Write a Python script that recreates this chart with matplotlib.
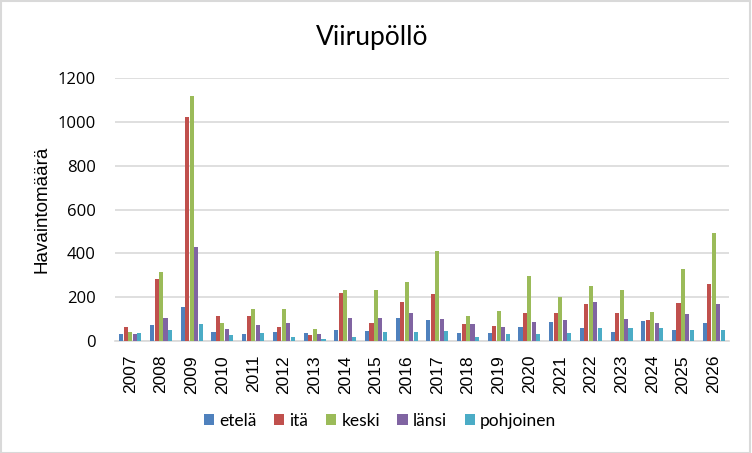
import matplotlib
matplotlib.use('Agg')
from matplotlib import pyplot as plt
from matplotlib.patches import Rectangle
import numpy as np

years = ['2007', '2008', '2009', '2010', '2011', '2012', '2013', '2014', '2015', '2016',
         '2017', '2018', '2019', '2020', '2021', '2022', '2023', '2024', '2025', '2026']
etela = [30, 72, 153, 43, 30, 43, 38, 52, 47, 107, 95, 38, 38, 66, 86, 61, 43, 90, 52, 84]
ita = [66, 283, 1020, 113, 112, 66, 28, 217, 81, 176, 214, 76, 70, 127, 130, 167, 130, 95, 173, 260]
keski = [43, 313, 1116, 80, 148, 148, 57, 231, 231, 268, 411, 112, 139, 297, 199, 251, 231, 131, 329, 494]
lansi = [30, 104, 431, 54, 72, 81, 34, 107, 107, 130, 99, 76, 66, 86, 95, 176, 99, 84, 122, 168]
pohjoinen = [38, 49, 76, 26, 35, 20, 11, 20, 43, 43, 47, 20, 30, 30, 35, 61, 61, 61, 52, 52]

series = [('etelä', etela, '#4F81BD'),
          ('itä', ita, '#C0504D'),
          ('keski', keski, '#9BBB59'),
          ('länsi', lansi, '#8064A2'),
          ('pohjoinen', pohjoinen, '#4BACC6')]

fig = plt.figure(figsize=(7.52, 4.53), dpi=100)
ax = fig.add_axes([115/752, 1-341/453, 614/752, 263/453])

x = np.arange(len(years))
w = 0.145
for i, (name, vals, col) in enumerate(series):
    ax.bar(x + (i - 2) * w, vals, width=w * 0.92, color=col, label=name, zorder=3)

ax.set_xlim(-0.5, len(years) - 0.5)
ax.set_ylim(0, 1200)
ax.set_yticks(range(0, 1201, 200))
ax.yaxis.grid(True, color='#d9d9d9', linewidth=1.2, zorder=0)
for s in ['top', 'right', 'left']:
    ax.spines[s].set_visible(False)
ax.spines['bottom'].set_color('#d9d9d9')
ax.spines['bottom'].set_linewidth(1.2)
ax.tick_params(axis='both', length=0)
ax.tick_params(axis='y', pad=14)
ax.tick_params(axis='x', pad=10)

ax.set_xticks(x)
ax.set_xticklabels(years, rotation=90, family='Liberation Sans', fontsize=12.5)
for lab in ax.get_yticklabels():
    lab.set_family('Open Sans')
    lab.set_fontsize(12)

ax.set_ylabel('Havaintomäärä', family='Liberation Sans', fontsize=13.5, labelpad=5)
fig.text(0.495, 1 - 38/453, 'Viirupöllö', ha='center', va='center', family='Lato', fontsize=19)

fig.legend(loc='center', bbox_to_anchor=(380/752, 1 - 421/453), ncol=5, frameon=False,
           prop={'family': 'Lato', 'size': 12.5}, handlelength=0.6, handleheight=0.6,
           handletextpad=0.3, columnspacing=1.0)

fig.patches.append(Rectangle((0.001, 0.001), 0.997, 0.996, transform=fig.transFigure,
                             fill=False, edgecolor='#d9d9d9', linewidth=1.5))

plt.savefig('out.png', dpi=100)
